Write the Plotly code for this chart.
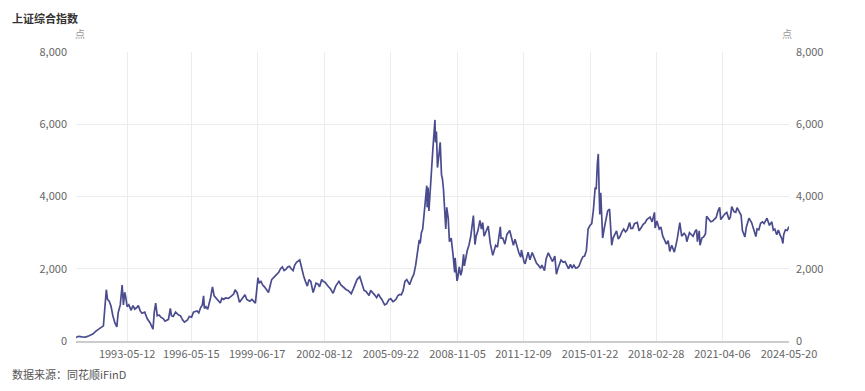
import plotly.graph_objects as go

title_text = "上证综合指数"
unit_text = "点"
source_text = "数据来源：同花顺iFinD"

tick_dates = ["1993-05-12", "1996-05-15", "1999-06-17", "2002-08-12", "2005-09-22",
              "2008-11-05", "2011-12-09", "2015-01-22", "2018-02-28", "2021-04-06", "2024-05-20"]
y_ticks = [0, 2000, 4000, 6000, 8000]
y_tick_labels = ["0", "2,000", "4,000", "6,000", "8,000"]

dates = [
"1990-12-19","1991-02-01","1991-04-01","1991-06-01","1991-08-01","1991-10-01","1991-12-01","1992-02-01","1992-04-01","1992-05-21",
"1992-06-10","1992-07-10","1992-08-10","1992-09-10","1992-10-15","1992-11-17","1992-12-10","1993-01-15","1993-02-16","1993-03-10",
"1993-04-01","1993-04-20","1993-05-12","1993-06-10","1993-07-20","1993-08-20","1993-09-20","1993-10-20","1993-11-20","1993-12-20",
"1994-01-20","1994-03-10","1994-04-20","1994-06-10","1994-07-29","1994-08-20","1994-09-13","1994-10-10","1994-11-10","1994-12-10",
"1995-01-20","1995-02-20","1995-04-20","1995-05-22","1995-06-10","1995-07-10","1995-08-20","1995-10-10","1995-11-10","1995-12-20",
"1996-01-19","1996-03-10","1996-04-10","1996-05-20","1996-06-20","1996-08-20","1996-09-20","1996-10-20","1996-11-20","1996-12-11",
"1996-12-25","1997-01-20","1997-02-20","1997-04-10","1997-05-12","1997-06-10","1997-07-10","1997-08-10","1997-09-23","1997-10-20",
"1997-11-20","1997-12-20","1998-02-10","1998-03-20","1998-05-10","1998-06-04","1998-07-10","1998-08-18","1998-10-10","1998-11-20",
"1998-12-20","1999-02-10","1999-03-20","1999-05-17","1999-06-30","1999-07-20","1999-08-20","1999-09-20","1999-10-20","1999-12-27",
"2000-01-20","2000-02-20","2000-03-20","2000-04-20","2000-05-20","2000-06-20","2000-07-20","2000-08-20","2000-09-20","2000-10-20",
"2000-11-20","2000-12-20","2001-01-20","2001-02-20","2001-03-20","2001-04-20","2001-06-14","2001-07-10","2001-07-30","2001-08-20",
"2001-09-20","2001-10-22","2001-11-20","2001-12-20","2002-01-29","2002-02-20","2002-03-20","2002-04-20","2002-05-20","2002-06-25",
"2002-07-20","2002-08-20","2002-09-20","2002-10-20","2002-11-20","2002-12-20","2003-01-06","2003-02-20","2003-04-16","2003-05-20",
"2003-06-20","2003-07-20","2003-08-20","2003-09-20","2003-11-13","2003-12-20","2004-01-20","2004-02-20","2004-04-07","2004-05-10",
"2004-06-20","2004-07-20","2004-09-13","2004-10-10","2004-11-10","2004-12-20","2005-01-20","2005-02-20","2005-03-20","2005-04-20",
"2005-06-06","2005-07-10","2005-08-20","2005-09-20","2005-10-27","2005-11-20","2005-12-20","2006-01-20","2006-02-20","2006-03-20",
"2006-04-20","2006-05-20","2006-06-20","2006-07-20","2006-08-08","2006-09-20","2006-10-20","2006-11-20","2006-12-20","2007-01-20",
"2007-02-05","2007-02-26","2007-03-20","2007-04-20","2007-05-29","2007-06-05","2007-06-20","2007-07-05","2007-07-25","2007-08-20",
"2007-09-10","2007-10-16","2007-10-25","2007-11-10","2007-11-28","2007-12-20","2008-01-14","2008-02-05","2008-02-20","2008-03-10",
"2008-04-18","2008-05-05","2008-05-30","2008-06-20","2008-07-20","2008-08-20","2008-09-18","2008-09-25","2008-10-28","2008-11-10",
"2008-12-05","2008-12-31","2009-01-20","2009-02-17","2009-03-03","2009-04-20","2009-05-20","2009-06-20","2009-07-20","2009-08-04",
"2009-08-31","2009-09-20","2009-10-20","2009-11-24","2009-12-20","2010-01-11","2010-02-03","2010-03-20","2010-04-15","2010-05-20",
"2010-07-02","2010-08-20","2010-09-20","2010-11-08","2010-11-20","2010-12-20","2011-01-25","2011-03-01","2011-04-18","2011-05-20",
"2011-06-20","2011-07-18","2011-08-20","2011-09-20","2011-10-24","2011-11-04","2011-12-20","2012-01-06","2012-02-27","2012-03-29",
"2012-05-07","2012-06-20","2012-07-20","2012-08-20","2012-09-26","2012-10-20","2012-12-03","2012-12-31","2013-02-06","2013-03-20",
"2013-04-20","2013-05-29","2013-06-25","2013-07-20","2013-09-12","2013-10-20","2013-11-20","2013-12-20","2014-01-20","2014-02-20",
"2014-03-20","2014-04-20","2014-05-20","2014-06-20","2014-07-20","2014-08-20","2014-09-20","2014-10-20","2014-11-20","2014-12-20",
"2015-01-20","2015-02-20","2015-03-20","2015-04-20","2015-05-08","2015-05-27","2015-06-12","2015-06-26","2015-07-08","2015-07-24",
"2015-08-26","2015-09-20","2015-10-20","2015-11-20","2015-12-22","2016-01-28","2016-02-20","2016-03-20","2016-04-20","2016-05-20",
"2016-06-20","2016-07-20","2016-08-20","2016-09-20","2016-10-20","2016-11-29","2016-12-20","2017-01-20","2017-02-20","2017-04-10",
"2017-05-10","2017-06-20","2017-07-20","2017-08-20","2017-09-20","2017-11-14","2017-12-20","2018-01-29","2018-02-09","2018-03-12",
"2018-04-20","2018-05-20","2018-06-20","2018-07-20","2018-08-20","2018-09-20","2018-10-18","2018-11-20","2018-12-20","2019-01-04",
"2019-02-20","2019-03-20","2019-04-08","2019-05-10","2019-06-20","2019-07-20","2019-08-06","2019-09-20","2019-10-20","2019-11-20",
"2019-12-31","2020-01-20","2020-02-03","2020-03-05","2020-03-19","2020-04-20","2020-05-20","2020-06-20","2020-07-09","2020-08-20",
"2020-09-20","2020-10-20","2020-11-20","2020-12-20","2021-01-20","2021-02-18","2021-03-09","2021-04-20","2021-05-20","2021-06-20",
"2021-07-28","2021-08-20","2021-09-13","2021-10-20","2021-11-20","2021-12-13","2022-01-20","2022-02-20","2022-03-15","2022-04-26",
"2022-05-20","2022-06-20","2022-07-05","2022-08-20","2022-09-20","2022-10-31","2022-11-20","2022-12-20","2023-01-20","2023-02-20",
"2023-03-20","2023-05-09","2023-06-20","2023-07-31","2023-08-25","2023-09-20","2023-10-23","2023-11-20","2023-12-20","2024-01-20",
"2024-02-05","2024-02-20","2024-03-20","2024-04-20","2024-05-20",
]

values = [
100,130,115,110,145,190,280,350,420,1420,
1150,1100,960,700,500,390,780,1000,1550,1000,
1350,1200,950,1000,850,980,880,920,980,840,
770,800,620,500,330,800,1050,700,720,660,
620,550,600,900,700,680,800,720,700,580,
520,580,680,660,800,830,780,920,1000,1250,
900,950,880,1200,1500,1250,1200,1150,1050,1180,
1150,1190,1180,1230,1300,1420,1330,1070,1200,1280,
1150,1100,1150,1050,1750,1600,1650,1550,1500,1340,
1500,1700,1750,1800,1850,1900,2000,2050,1950,1980,
2050,2070,2000,1950,2100,2180,2245,2050,1900,1800,
1650,1520,1700,1650,1340,1450,1600,1580,1500,1700,
1650,1630,1550,1500,1450,1360,1320,1520,1650,1550,
1500,1480,1420,1400,1310,1450,1580,1700,1780,1580,
1400,1380,1260,1400,1350,1270,1200,1300,1220,1150,
1000,1030,1150,1170,1090,1110,1160,1260,1290,1280,
1400,1650,1700,1620,1560,1750,1850,2100,2500,2800,
2700,3000,3100,3600,4300,3700,4250,3600,4200,4900,
5300,6120,5500,5800,4800,5100,5500,4600,4500,4200,
3100,3700,3400,2750,2850,2400,1900,2300,1665,1750,
2050,1820,1950,2400,2080,2500,2650,2900,3300,3470,
2670,2900,3050,3340,3100,3280,2900,3050,3180,2700,
2370,2650,2600,3160,2850,2850,2680,2950,3060,2850,
2650,2820,2580,2450,2320,2520,2180,2140,2460,2250,
2450,2300,2150,2100,2010,2100,1950,2270,2440,2300,
2200,2350,1850,2000,2240,2180,2200,2100,2000,2120,
2020,2100,2020,2030,2080,2220,2330,2350,2500,3100,
3200,3250,3620,4250,4200,4900,5178,4200,3500,4100,
2850,3100,3400,3600,3650,2650,2850,2950,3050,2820,
2900,3020,3100,3020,3080,3280,3120,3120,3250,3280,
3050,3150,3230,3270,3360,3430,3300,3560,3130,3320,
3100,3150,2900,2800,2680,2780,2480,2650,2550,2460,
2800,3100,3280,2900,2980,2920,2750,3000,2950,2900,
3050,3080,2750,3050,2650,2850,2880,2970,3450,3350,
3300,3320,3380,3420,3600,3700,3360,3470,3520,3560,
3360,3430,3720,3580,3560,3690,3550,3480,3060,2880,
3150,3320,3400,3270,3120,2890,3100,3080,3260,3300,
3250,3400,3200,3300,3070,3100,2940,3070,2930,2830,
2700,2950,3080,3060,3170,
]

line_color = "#4a4c8e"
grid_color = "#ececec"
tick_color = "#666666"
font_family = "Noto Sans CJK SC, Noto Sans, sans-serif"

L, R, T, B = 68, 84, 44, 58
PW = 865 - L - R
PH = 391 - T - B

fig = go.Figure()
fig.add_trace(go.Scatter(x=dates, y=values, mode="lines",
                         line=dict(color=line_color, width=1.7),
                         showlegend=False, yaxis="y"))
fig.add_trace(go.Scatter(x=dates, y=values, mode="lines",
                         line=dict(color="rgba(0,0,0,0)", width=0),
                         showlegend=False, hoverinfo="skip", yaxis="y2"))

fig.update_layout(
    width=865, height=391,
    margin=dict(l=L, r=R, t=T, b=B),
    paper_bgcolor="white", plot_bgcolor="white",
    font=dict(family=font_family, size=11, color=tick_color),
    xaxis=dict(type="date", range=["1990-12-19", "2024-05-20"],
               tickvals=tick_dates, ticktext=tick_dates,
               showgrid=True, gridcolor=grid_color, gridwidth=1,
               showline=True, linecolor="#cccccc", linewidth=2,
               ticks="", tickfont=dict(size=11, color=tick_color),
               ticklabelstandoff=2,
               zeroline=False),
    yaxis=dict(range=[0, 8000], tickvals=y_ticks, ticktext=y_tick_labels,
               showgrid=True, gridcolor=grid_color, gridwidth=1,
               zeroline=False, showline=False, ticks="",
               ticklabelstandoff=8,
               tickfont=dict(size=11, color=tick_color)),
    yaxis2=dict(range=[0, 8000], tickvals=y_ticks, ticktext=y_tick_labels,
                overlaying="y", side="right", showgrid=False,
                zeroline=False, showline=False, ticks="",
                ticklabelstandoff=6,
                tickfont=dict(size=11, color=tick_color)),
)

fig.add_annotation(text=f"<b>{title_text}</b>", xref="paper", yref="paper",
                   x=(2 - L) / PW, y=1 + (T - 10) / PH, xanchor="left", yanchor="middle",
                   showarrow=False, font=dict(size=11, color="#333333", family=font_family))
fig.add_annotation(text=unit_text, xref="paper", yref="paper",
                   x=(72 - L) / PW, y=1 + (T - 26) / PH, xanchor="center", yanchor="middle",
                   showarrow=False, font=dict(size=10, color="#999999", family=font_family))
fig.add_annotation(text=unit_text, xref="paper", yref="paper",
                   x=(779 - L) / PW, y=1 + (T - 26) / PH, xanchor="center", yanchor="middle",
                   showarrow=False, font=dict(size=10, color="#999999", family=font_family))
fig.add_annotation(text=source_text, xref="paper", yref="paper",
                   x=(2 - L) / PW, y=-(366 - (T + PH)) / PH, xanchor="left", yanchor="middle",
                   showarrow=False, font=dict(size=11, color="#555555", family=font_family))

fig.write_html("out.html")
